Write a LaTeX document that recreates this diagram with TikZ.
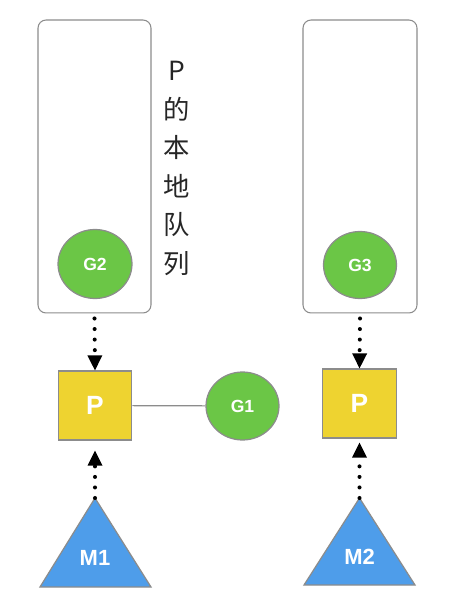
\documentclass[tikz,border=0pt]{standalone}
\usepackage{fontspec}
\setmainfont{Liberation Sans}
\newfontfamily\cjk{Noto Sans CJK SC}
\usetikzlibrary{arrows.meta,shapes.geometric}

\definecolor{pyellow}{HTML}{EED330}
\definecolor{ggreen}{HTML}{6BC646}
\definecolor{mblue}{HTML}{4E9DEA}
\definecolor{edge}{HTML}{8C8C8C}

\tikzstyle{queue} = [rectangle, rounded corners=0.16cm, draw=edge, line width=0.6pt, minimum height=5.86cm]
\tikzstyle{gor} = [ellipse, draw=edge, line width=0.7pt, fill=ggreen, text=white, font=\bfseries\fontsize{10}{11}\selectfont, inner sep=0pt]
\tikzstyle{proc} = [rectangle, draw=edge, line width=0.7pt, fill=pyellow, text=white, font=\bfseries\fontsize{15}{16}\selectfont, minimum width=1.47cm, minimum height=1.38cm]
\tikzstyle{mach} = [draw=edge, line width=0.7pt, fill=mblue]
\tikzstyle{dotarrow} = [line width=2.3pt, line cap=round, dash pattern=on 0pt off 6pt, -{Triangle[width=0.3cm,length=0.3cm,line cap=butt,line width=0pt]}]

\begin{document}
\begin{tikzpicture}[x=0.02cm, y=-0.02cm]
        \useasboundingbox (0,0) rectangle (457,614);

        % local queues
        \node[queue, minimum width=2.26cm] at (94.5,166.5) (lq1) {};
        \node[queue, minimum width=2.28cm] at (360,166.5) (lq2) {};

        \node[font=\cjk\fontsize{15}{21.9}\selectfont, text=black!85, align=center] at (177,168.5) (lqlabel) {P\\的\\本\\地\\队\\列};

        \node[gor, minimum width=1.48cm, minimum height=1.38cm] at (95,264) (g2) {G2};
        \node[gor, minimum width=1.46cm, minimum height=1.34cm] at (360,265) (g3) {G3};

        % processors
        \node[proc] at (95,405.5) (p1) {P};
        \node[proc] at (359.5,403.5) (p2) {P};

        \node[gor, minimum width=1.46cm, minimum height=1.36cm] at (242.5,406) (g1) {G1};
        \draw[edge, line width=0.7pt] (p1) -- (g1);

        % machines
        \draw[mach] (95,498) coordinate (m1top) -- (151,587) -- (40,587) -- cycle;
        \draw (95,558) node[text=white, font=\bfseries\fontsize{12.5}{13}\selectfont] (m1) {M1};

        \draw[mach] (359.5,498) coordinate (m2top) -- (415,585) -- (304,585) -- cycle;
        \draw (359.5,557) node[text=white, font=\bfseries\fontsize{12.5}{13}\selectfont] (m2) {M2};

        % dotted links
        \draw[dotarrow] ([yshift=-0.1cm]lq1.south) -- (p1.north);
        \draw[dotarrow] ([yshift=-0.1cm]lq2.south) -- (p2.north);
        \draw[dotarrow, shorten >=0.2cm] (m1top) -- (p1.south);
        \draw[dotarrow, shorten >=0.08cm] (m2top) -- (p2.south);
    \end{tikzpicture}
\end{document}
